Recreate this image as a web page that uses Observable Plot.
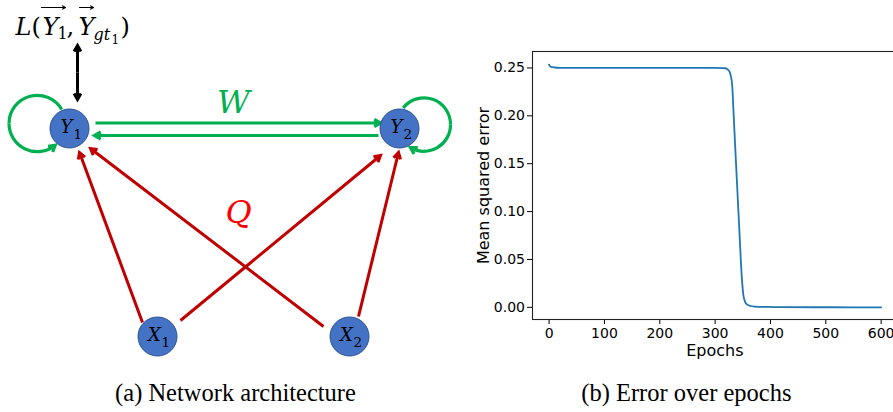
<!DOCTYPE html>
<html><head><meta charset="utf-8">
<script src="https://cdn.jsdelivr.net/npm/d3@7"></script>
<script src="https://cdn.jsdelivr.net/npm/@observablehq/plot@0.6"></script>
<style>
html,body{margin:0;padding:0;background:#fff;overflow:hidden;}
#fig{position:relative;width:893px;height:412px;overflow:hidden;background:#fff;}
#left{position:absolute;left:0;top:0;width:455px;height:412px;}
#right{position:absolute;left:460px;top:0;width:440px;height:412px;}
#fig svg{max-width:none !important;}
</style></head><body>
<div id="fig"><div id="left"></div><div id="right"></div></div>
<script>
// ---------- diagram data (diagram coordinates) ----------
const nodes = [
  {id: "Y", sub: "1", x: 69, y: 128},
  {id: "Y", sub: "2", x: 399, y: 128},
  {id: "X", sub: "1", x: 157, y: 336},
  {id: "X", sub: "2", x: 349, y: 336}
];
const wEdges = [
  {x1: 95, y1: 122.5, x2: 380, y2: 122.5},
  {x1: 378, y1: 135, x2: 94, y2: 135}
];
const qEdges = [
  {x1: 142, y1: 322, x2: 79, y2: 152},
  {x1: 323, y1: 326, x2: 90, y2: 148},
  {x1: 180, y1: 320, x2: 380, y2: 155},
  {x1: 358, y1: 316, x2: 398, y2: 152}
];
const lossArrows = [
  {x1: 77, y1: 72, x2: 77, y2: 45},
  {x1: 77, y1: 72, x2: 77, y2: 99}
];
const loopStart = [
  {x1: 61.2, y1: 109, x2: 8.5, y2: 123, bend: -75},
  {x1: 402.7, y1: 107.4, x2: 450, y2: 124, bend: 71}
];
const loopEnd = [
  {x1: 8.5, y1: 123, x2: 54.7, y2: 144.7, bend: -64.6},
  {x1: 450, y1: 124, x2: 410, y2: 147.1, bend: 60.6}
];
const formulaItalic = [
  {t: "L", x: 15, y: 34, s: 24},
  {t: "Y", x: 42, y: 34, s: 24},
  {t: "Y", x: 78, y: 34, s: 24},
  {t: "gt", x: 93, y: 39, s: 16}
];
const formulaUpright = [
  {t: "(", x: 31, y: 34, s: 24},
  {t: "1", x: 57, y: 38, s: 16},
  {t: ",", x: 66, y: 34, s: 24},
  {t: "1", x: 111, y: 43, s: 12},
  {t: ")", x: 120, y: 34, s: 24}
];
const vecArrows = [
  {x1: 41, y1: 7, x2: 65, y2: 7},
  {x1: 79, y1: 7, x2: 93, y2: 7}
];
const edgeLabels = [
  {t: "W", x: 233, y: 112, c: "#00B050"},
  {t: "Q", x: 238, y: 222, c: "#FF0000"}
];
const captionA = [{t: "(a) Network architecture", x: 235, y: 400}];

// ---------- chart data ----------
const epochs = [0, 1, 3, 6, 10, 20, 40, 80, 150, 250, 300, 312, 318, 322, 326, 329, 331, 333, 336, 339, 342, 345, 347, 349, 351, 354, 358, 364, 372, 390, 420, 480, 550, 600];
const mse = [0.2535, 0.2522, 0.2513, 0.2508, 0.2505, 0.2502, 0.2501, 0.2500, 0.2500, 0.2500, 0.2500, 0.2499, 0.2497, 0.2488, 0.2462, 0.2400, 0.2310, 0.2070, 0.1710, 0.1360, 0.1010, 0.0660, 0.0430, 0.0250, 0.0130, 0.0060, 0.0028, 0.0014, 0.0008, 0.0004, 0.0002, 0.0001, 0.00005, 0.00003];
const xTicks = [0, 100, 200, 300, 400, 500, 600];
const yTicks = [0, 0.05, 0.10, 0.15, 0.20, 0.25];

// ---------- diagram ----------
const GREEN = "#00B050", RED = "#C00000";
const arrowOpts = (color, sw, hl) => ({x1: "x1", y1: "y1", x2: "x2", y2: "y2", stroke: color, strokeWidth: sw, headLength: hl, headAngle: 60, strokeLinecap: "butt", strokeLinejoin: "miter", strokeMiterlimit: 10});
const W = 455, H = 412;
const left = Plot.plot({
  width: W, height: H, margin: 0,
  x: {type: "linear", domain: [0, W], range: [0, W], axis: null},
  y: {type: "linear", domain: [0, H], range: [0, H], axis: null},
  style: {background: "#fff", overflow: "visible", maxWidth: "none"},
  marks: [
    Plot.arrow(qEdges, arrowOpts(RED, 3, 3.6)),
    Plot.arrow(wEdges, arrowOpts(GREEN, 3.2, 3.4)),
    Plot.arrow(lossArrows, arrowOpts("#000", 3, 3.4)),
    ...loopStart.map(d => Plot.arrow([d], {...arrowOpts(GREEN, 3.2, 0), bend: d.bend})),
    ...loopEnd.map(d => Plot.arrow([d], {...arrowOpts(GREEN, 3.2, 3.4), bend: d.bend})),
    Plot.dot(nodes, {x: "x", y: "y", r: 19.5, fill: "#4472C4", stroke: "#2F528F", strokeWidth: 1}),
    Plot.text(nodes, {x: "x", y: "y", text: "id", dx: -3, dy: 4, fontSize: 18, fontStyle: "italic", fontFamily: "DejaVu Serif", lineAnchor: "bottom", textAnchor: "middle", fill: "#000"}),
    Plot.text(nodes, {x: "x", y: "y", text: "sub", dx: 4, dy: 10.5, fontSize: 13.5, fontFamily: "DejaVu Serif", lineAnchor: "bottom", textAnchor: "start", fill: "#000"}),
    Plot.text(formulaItalic, {x: "x", y: "y", text: "t", fontSize: "s", fontStyle: "italic", fontFamily: "DejaVu Serif", lineAnchor: "bottom", textAnchor: "start", fill: "#000"}),
    Plot.text(formulaUpright, {x: "x", y: "y", text: "t", fontSize: "s", fontFamily: "DejaVu Serif", lineAnchor: "bottom", textAnchor: "start", fill: "#000"}),
    Plot.arrow(vecArrows, {x1: "x1", y1: "y1", x2: "x2", y2: "y2", stroke: "#000", strokeWidth: 1.2, headLength: 4, headAngle: 60}),
    Plot.text(edgeLabels, {x: "x", y: "y", text: "t", fill: "c", fontSize: 32, fontStyle: "italic", fontFamily: "DejaVu Serif", lineAnchor: "bottom", textAnchor: "middle"}),
    Plot.text(captionA, {x: "x", y: "y", text: "t", fontSize: 24.5, fontFamily: "Liberation Serif", lineAnchor: "bottom", textAnchor: "middle", fill: "#000"})
  ]
});
document.getElementById("left").appendChild(left);

// ---------- chart ----------
const series = epochs.map((e, i) => ({epoch: e, mse: mse[i]}));
const right = Plot.plot({
  width: 440, height: 412,
  marginLeft: 72, marginRight: 3.3, marginTop: 51, marginBottom: 93,
  x: {type: "linear", domain: [-30, 629]},
  y: {type: "linear", domain: [-0.0127, 0.2672]},
  style: {background: "#fff", fontFamily: "DejaVu Sans", fontSize: "14px", color: "#000", overflow: "visible", maxWidth: "none"},
  marks: [
    Plot.axisX({ticks: xTicks, tickFormat: d3.format("d"), tickSize: 5, tickPadding: 3.5, label: null, fontSize: 14}),
    Plot.axisY({ticks: yTicks, tickFormat: d3.format(".2f"), tickSize: 5, tickPadding: 2.5, label: null, fontSize: 14}),
    Plot.line(series, {x: "epoch", y: "mse", stroke: "#1f77b4", strokeWidth: 1.8, curve: "monotone-x"}),
    Plot.frame({stroke: "#222", strokeWidth: 1.1}),
    Plot.text(["Mean squared error"], {frameAnchor: "left", rotate: -90, dx: -49, fontSize: 16, textAnchor: "middle", lineAnchor: "middle"}),
    Plot.text(["Epochs"], {frameAnchor: "bottom", dy: 36.5, fontSize: 16, textAnchor: "middle", lineAnchor: "bottom"}),
    Plot.text(["(b) Error over epochs"], {frameAnchor: "bottom", dx: -28.5, dy: 81, fontSize: 24.5, fontFamily: "Liberation Serif", textAnchor: "middle", lineAnchor: "bottom"})
  ]
});
document.getElementById("right").appendChild(right);
</script>
</body></html>
